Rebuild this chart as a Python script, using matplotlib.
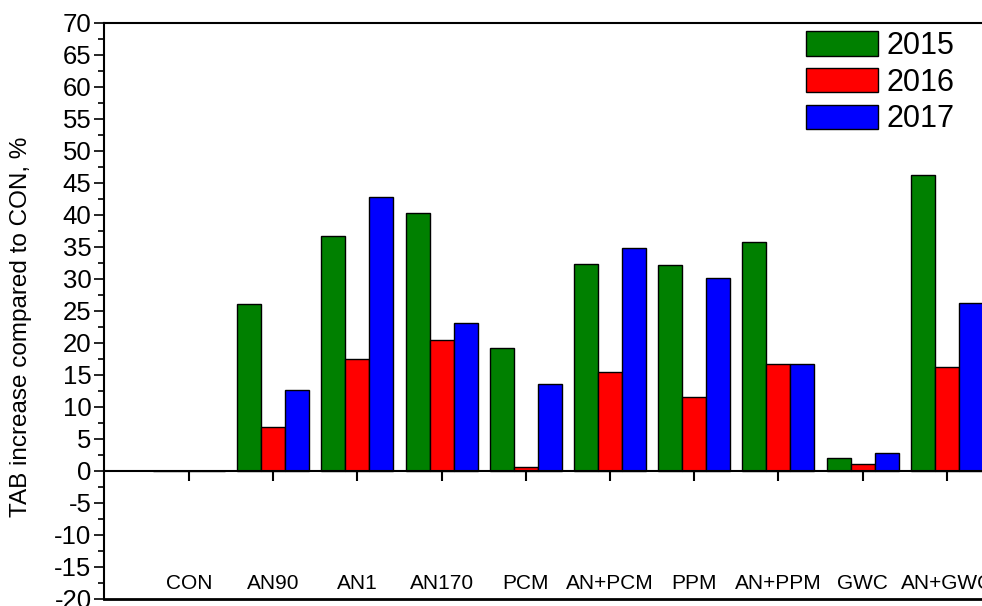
import matplotlib
matplotlib.use("Agg")
import matplotlib.pyplot as plt
from matplotlib.ticker import MultipleLocator
import numpy as np

plt.rcParams['font.family'] = ['Liberation Sans', 'DejaVu Sans']
plt.rcParams['axes.unicode_minus'] = False

# data
treatments = ["CON", "AN90", "AN1", "AN170", "PCM", "AN+PCM", "PPM", "AN+PPM", "GWC", "AN+GWC"]
years = ["2015", "2016", "2017"]
tab_2015 = [0, 26.1, 36.7, 40.3, 19.2, 32.4, 32.2, 35.8, 2.1, 46.3]
tab_2016 = [0, 6.9, 17.5, 20.5, 0.7, 15.4, 11.6, 16.7, 1.1, 16.3]
tab_2017 = [0, 12.7, 42.8, 23.2, 13.6, 34.8, 30.2, 16.7, 2.8, 26.3]
colors = ["#008000", "#FF0000", "#0000FF"]

W, H = 982, 606
fig = plt.figure(figsize=(W / 100, H / 100), dpi=100)
# axes run past the right edge, like the cropped original
ax = fig.add_axes([104 / W, 7 / H, (1031 - 104) / W, 576 / H])

x = np.arange(len(treatments))
bw = 0.285
for i, (vals, c, yr) in enumerate(zip([tab_2015, tab_2016, tab_2017], colors, years)):
    ax.bar(x + (i - 1) * bw, vals, bw, color=c, edgecolor="black", linewidth=1.0, label=yr)

ax.set_xlim(-1.01, 10)
ax.set_ylim(-20, 70)
ax.yaxis.set_major_locator(MultipleLocator(5))
ax.yaxis.set_minor_locator(MultipleLocator(2.5))
ax.tick_params(axis='y', which='major', length=7, width=1.2, labelsize=18.5, pad=2)
ax.tick_params(axis='y', which='minor', length=4, width=1.2)

# category axis sits on zero, frame line at the bottom
ax.spines['bottom'].set_position(('data', 0))
ax.spines['right'].set_visible(False)
for s in ['left', 'top', 'bottom']:
    ax.spines[s].set_linewidth(1.5)
ax.axhline(-20, color='black', lw=2, clip_on=False)
ax.set_xticks(x)
ax.tick_params(axis='x', which='major', direction='out', length=7, width=1.5, labelbottom=False)

for xi, name in zip(x, treatments):
    ax.text(xi, -17.6, name, ha='center', va='center', fontsize=15, clip_on=False)

ax.set_ylabel("TAB increase compared to CON, %", fontsize=17.5)
ax.yaxis.set_label_coords(-0.0775, 0.472)

fig.legend(loc='upper left', bbox_to_anchor=(806 / W, 1 - 31 / H), frameon=False,
           fontsize=22, handlelength=2.35, handleheight=0.85, handletextpad=0.3,
           labelspacing=0.22, borderpad=0, borderaxespad=0)

fig.savefig("out.png", dpi=100)
